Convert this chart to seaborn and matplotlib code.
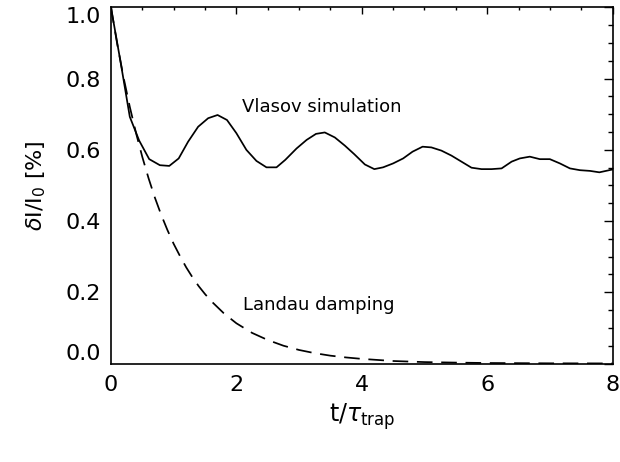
import matplotlib
matplotlib.use("Agg")
import matplotlib.pyplot as plt
import seaborn as sns
import pandas as pd
from matplotlib.ticker import MultipleLocator

# Vlasov simulation (solid)
vlasov_t = [0.0, 0.15, 0.30, 0.45, 0.61, 0.78, 0.93, 1.08, 1.23, 1.39, 1.55, 1.70, 1.85,
            2.00, 2.16, 2.32, 2.48, 2.64, 2.78, 2.96, 3.12, 3.27, 3.41, 3.57, 3.73, 3.88,
            4.05, 4.20, 4.34, 4.50, 4.66, 4.81, 4.97, 5.11, 5.27, 5.43, 5.59, 5.75, 5.91,
            6.07, 6.23, 6.39, 6.52, 6.68, 6.84, 7.00, 7.16, 7.32, 7.48, 7.64, 7.79, 8.00]
vlasov_y = [1.00, 0.85, 0.693, 0.626, 0.574, 0.557, 0.555, 0.576, 0.623, 0.665, 0.689, 0.698, 0.684,
            0.647, 0.600, 0.569, 0.551, 0.551, 0.572, 0.604, 0.628, 0.645, 0.649, 0.635, 0.612, 0.588,
            0.559, 0.546, 0.551, 0.562, 0.576, 0.595, 0.609, 0.607, 0.598, 0.584, 0.567, 0.550, 0.546,
            0.546, 0.548, 0.567, 0.576, 0.581, 0.574, 0.574, 0.562, 0.548, 0.543, 0.541, 0.537, 0.545]

# Landau damping (dashed)
landau_t = [0.0, 0.1, 0.2, 0.3, 0.4, 0.5, 0.6, 0.7, 0.8, 0.9, 1.0, 1.1, 1.2, 1.3, 1.4, 1.5,
            1.6, 1.8, 2.0, 2.25, 2.5, 2.75, 3.0, 3.25, 3.5, 3.75, 4.0, 4.5, 5.0, 5.5, 6.0, 7.0, 8.0]
landau_y = [1.00, 0.897, 0.804, 0.721, 0.647, 0.580, 0.520, 0.466, 0.418, 0.375, 0.336, 0.302,
            0.270, 0.242, 0.217, 0.195, 0.175, 0.141, 0.113, 0.086, 0.066, 0.050, 0.038, 0.029,
            0.022, 0.017, 0.013, 0.007, 0.004, 0.0025, 0.0014, 0.0005, 0.0002]

x_ticks = [0, 2, 4, 6, 8]
y_ticks = [0.0, 0.2, 0.4, 0.6, 0.8, 1.0]
y_tick_labels = ["0.0", "0.2", "0.4", "0.6", "0.8", "1.0"]

sns.set_style("white")
plt.rcParams["font.family"] = ["DejaVu Sans"]
plt.rcParams["mathtext.fontset"] = "dejavusans"
plt.rcParams["text.color"] = "black"
plt.rcParams["axes.labelcolor"] = "black"

fig = plt.figure(figsize=(6.2, 4.62), dpi=100)
ax = fig.add_axes([0.179, 0.2132, 0.809, 0.7706])

df_v = pd.DataFrame({"t": vlasov_t, "y": vlasov_y})
df_l = pd.DataFrame({"t": landau_t, "y": landau_y})
sns.lineplot(data=df_v, x="t", y="y", ax=ax, color="black", lw=1.25, sort=False)
sns.lineplot(data=df_l, x="t", y="y", ax=ax, color="black", lw=1.25, sort=False,
             dashes=False, linestyle=(0, (9, 5)))

ax.set_xlim(0, 8)
ax.set_ylim(0, 1.0)
ax.set_xticks(x_ticks)
ax.set_xticklabels([str(v) for v in x_ticks])
ax.set_yticks(y_ticks)
ax.set_yticklabels(y_tick_labels)
ax.xaxis.set_minor_locator(MultipleLocator(0.5))
ax.yaxis.set_minor_locator(MultipleLocator(0.05))

for s in ax.spines.values():
    s.set_visible(True)
    s.set_color("black")
    s.set_linewidth(1.2)

ax.tick_params(axis="both", which="both", direction="in", top=True, right=True,
               color="black", width=1.0, labelsize=16, labelcolor="black")
ax.tick_params(axis="x", which="major", length=5, pad=8)
ax.tick_params(axis="x", which="minor", length=2.5)
ax.tick_params(axis="y", which="major", length=6.5, pad=7)
ax.tick_params(axis="y", which="minor", length=3.5)

# IDL-style: end labels pulled inside the axis range
ylabels = ax.get_yticklabels()
ylabels[0].set_verticalalignment("bottom")
ylabels[-1].set_verticalalignment("top")

ax.set_xlabel(r"t/$\tau_{\mathregular{trap}}$", fontsize=17, labelpad=5)
ax.set_ylabel(r"$\delta$I/I$_{\mathregular{0}}$ [%]", fontsize=16, labelpad=13)

ax.text(2.09, 0.72, "Vlasov simulation", fontsize=13, va="center", ha="left", color="black")
ax.text(2.10, 0.165, "Landau damping", fontsize=13, va="center", ha="left", color="black")

fig.savefig("out.png", dpi=100)
